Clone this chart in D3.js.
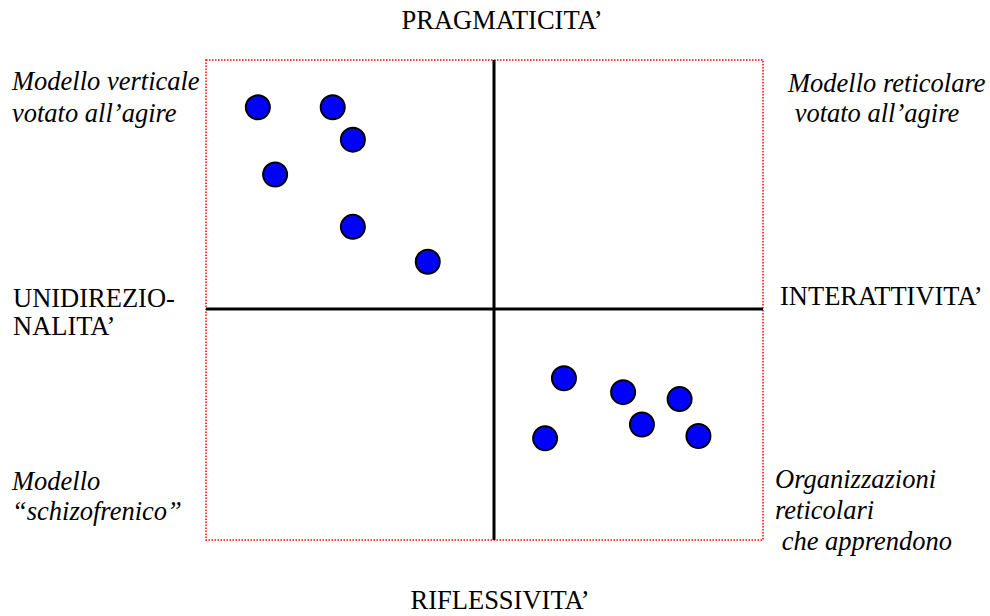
<!DOCTYPE html>
<html>
<head>
<meta charset="utf-8">
<script src="https://cdn.jsdelivr.net/npm/d3@7"></script>
<style>
    body { margin: 0; background: #fff; }
    svg text { font-family: 'Liberation Serif', 'Times New Roman', serif; fill: #000; }
</style>
</head>
<body>
<svg id="chart" width="990" height="616"></svg>
<script>
// points, in axis units (-1..1 each side of the cross)
const pointsX = [-0.82, -0.56, -0.49, -0.76, -0.49, -0.23, 0.26, 0.48, 0.69, 0.55, 0.19, 0.76];
const pointsY = [0.81, 0.81, 0.68, 0.54, 0.33, 0.19, -0.30, -0.36, -0.39, -0.50, -0.56, -0.55];

const axisTop = 'PRAGMATICITA\u2019';
const axisBottom = 'RIFLESSIVITA\u2019';
const axisLeft = ['UNIDIREZIO-', 'NALITA\u2019'];
const axisRight = ['INTERATTIVITA\u2019'];

const quadTopLeft = ['Modello verticale', 'votato all\u2019agire'];
const quadTopRight = ['Modello reticolare', ' votato all\u2019agire'];
const quadBottomLeft = ['Modello', '\u201cschizofrenico\u201d'];
const quadBottomRight = ['Organizzazioni', 'reticolari', ' che apprendono'];

const svg = d3.select('#chart');
const box = { left: 206, right: 763, top: 60, bottom: 540 };

const x = d3.scaleLinear().domain([-1, 0, 1]).range([box.left, 494, box.right]);
const y = d3.scaleLinear().domain([-1, 0, 1]).range([box.bottom, 309, box.top]);

svg.append('rect')
    .attr('x', box.left)
    .attr('y', box.top)
    .attr('width', box.right - box.left)
    .attr('height', box.bottom - box.top)
    .attr('fill', 'none')
    .attr('stroke', '#ff0000')
    .attr('stroke-width', 1.5)
    .attr('stroke-dasharray', '1.5,1.5');

svg.append('line')
    .attr('x1', x(0)).attr('x2', x(0))
    .attr('y1', y(1)).attr('y2', y(-1))
    .attr('stroke', '#000').attr('stroke-width', 3);

svg.append('line')
    .attr('x1', x(-1)).attr('x2', x(1))
    .attr('y1', y(0)).attr('y2', y(0))
    .attr('stroke', '#000').attr('stroke-width', 3);

svg.append('g')
    .selectAll('circle')
    .data(pointsX.map((d, i) => ({ x: d, y: pointsY[i] })))
    .enter()
    .append('circle')
    .attr('cx', (d) => x(d.x))
    .attr('cy', (d) => y(d.y))
    .attr('r', 12)
    .attr('fill', '#0000ff')
    .attr('stroke', '#000')
    .attr('stroke-width', 2);

const block = (lines, px, py, lh, italic, anchor) => {
    const t = svg.append('text')
        .attr('x', px)
        .attr('y', py)
        .attr('font-size', 26.5)
        .attr('font-style', italic ? 'italic' : 'normal')
        .attr('text-anchor', anchor || 'start')
        .attr('xml:space', 'preserve');
    lines.forEach((l, i) => {
        t.append('tspan')
            .attr('x', px)
            .attr('y', py + i * lh)
            .text(l);
    });
};

block([axisTop], 502, 29, 0, false, 'middle');
block([axisBottom], 500, 609, 0, false, 'middle');
block(axisLeft, 13, 307, 28, false);
block(axisRight, 780, 305, 0, false);

block(quadTopLeft, 12, 90, 32, true);
block(quadTopRight, 788, 92, 30, true);
block(quadBottomLeft, 12, 490, 30, true);
block(quadBottomRight, 775, 488, 31, true);
</script>
</body>
</html>
